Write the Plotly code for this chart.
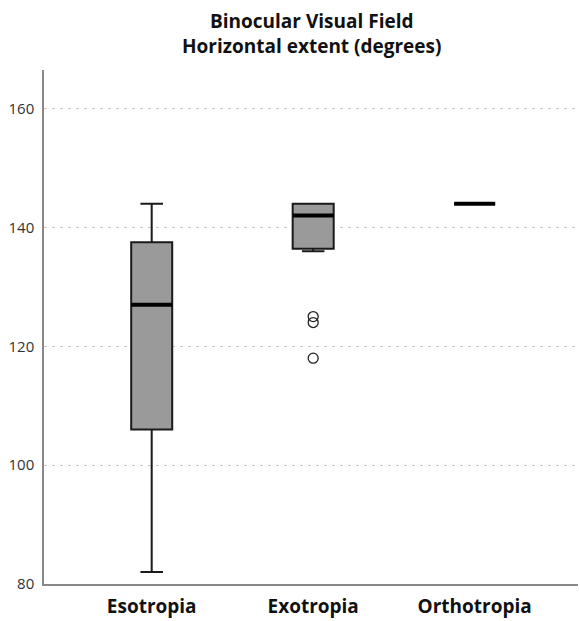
import plotly.graph_objects as go

categories = ["Esotropia", "Exotropia", "Orthotropia"]
q1 = [106, 136.4, 144]
median = [127, 142, 144]
q3 = [137.5, 144, 144]
lowerfence = [82, 136, 144]
upperfence = [144, 144, 144]
outlier_x = ["Exotropia", "Exotropia", "Exotropia"]
outlier_y = [125, 124, 118]
yticks = [80, 100, 120, 140, 160]
title_lines = ["Binocular Visual Field", "Horizontal extent (degrees)"]

fig = go.Figure()
fig.add_trace(go.Box(
    x=categories, q1=q1, median=median, q3=q3,
    lowerfence=lowerfence, upperfence=upperfence,
    fillcolor="#9a9a9a", line=dict(color="#1a1a1a", width=2),
    width=0.254, whiskerwidth=0.55, boxpoints=False, hoverinfo="skip",
    showlegend=False,
))
# thicker median lines
fig.add_trace(go.Box(
    x=categories, q1=median, median=median, q3=median,
    lowerfence=median, upperfence=median,
    fillcolor="rgba(0,0,0,0)", line=dict(color="#000000", width=4),
    width=0.254, whiskerwidth=0, boxpoints=False, hoverinfo="skip",
    showlegend=False,
))
fig.add_trace(go.Scatter(
    x=outlier_x, y=outlier_y, mode="markers",
    marker=dict(symbol="circle-open", size=10, color="#222222", line=dict(width=1.3)),
    showlegend=False, hoverinfo="skip",
))

# plot area: 70..588 px tall (518 px)
title_font = dict(family="Open Sans", size=19, color="#111111")
for txt, yy in zip(title_lines, [1.0946, 1.0463]):
    fig.add_annotation(text="<b>%s</b>" % txt, xref="paper", yref="paper",
                       x=0.5, y=yy, xanchor="center", yanchor="middle",
                       showarrow=False, font=title_font)

fig.update_layout(
    width=580, height=621,
    margin=dict(l=44, r=2, t=70, b=33),
    paper_bgcolor="white", plot_bgcolor="white",
    boxmode="overlay",
    font=dict(family="Open Sans", color="#333333"),
)
fig.update_xaxes(
    type="category", categoryorder="array", categoryarray=categories,
    range=[-0.667, 2.64], showline=True, linecolor="#888888", linewidth=1.5,
    showgrid=False, ticks="", tickfont=dict(family="Open Sans", size=19, color="#111111"),
    ticktext=["<b>%s</b>" % c for c in categories], tickvals=categories,
    ticklabelstandoff=4,
)
fig.update_yaxes(
    range=[80, 166.5], tickvals=yticks, showline=True, linecolor="#888888", linewidth=1.5,
    showgrid=True, gridcolor="#c8c8c8", griddash="3px,5px", gridwidth=1,
    ticks="", tickfont=dict(family="Open Sans", size=15, color="#333333"), zeroline=False,
    ticklabelstandoff=5,
)

fig.write_html(
    "out.html",
    config={"displayModeBar": False},
    post_script="document.body.style.margin='0';document.body.style.overflow='hidden';",
)
